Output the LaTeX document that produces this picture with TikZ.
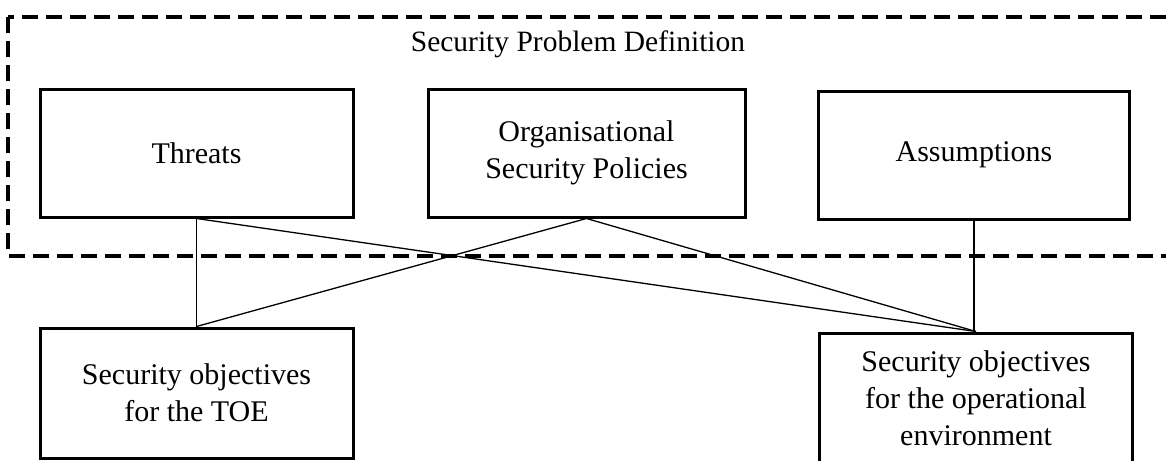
\documentclass[tikz,border=0pt]{standalone}
\usepackage{fontspec}
\setmainfont{Liberation Serif}
\begin{document}
\begin{tikzpicture}[x=1pt,y=-1pt,
  box/.style={draw, line width=3pt, minimum width=313pt, minimum height=128pt,
    align=center, inner sep=0pt, font=\fontsize{30}{37}\selectfont},
  conn/.style={line width=1.3pt},
  lbl/.style={inner sep=0pt, font=\fontsize{29.5}{36}\selectfont}]
\useasboundingbox (0,0) rectangle (1166,460);
\draw[line width=3.2pt, dash pattern=on 16pt off 8pt] (8,17) rectangle (1200,256);
\node[lbl] (title) at (578,44) {Security Problem Definition};
\node[box] (threats) at (196.5,153) {Threats};
\node[box, minimum width=317pt] (osp) at (586.5,153) {Organisational\\Security Policies};
\node[box, minimum width=311pt] (assump) at (974,155) {Assumptions};
\node[box, minimum height=130pt] (toe) at (196.5,393) {Security objectives\\for the TOE};
\node[box, minimum height=130pt] (env) at (976,398) {Security objectives\\for the operational\\environment};
\draw[conn] (threats.south) -- (toe.north);
\draw[conn] (threats.south) -- (env.north);
\draw[conn] (osp.south) -- (toe.north);
\draw[conn] (osp.south) -- (env.north);
\draw[conn] (assump.south) -- (assump.south |- env.north);
\end{tikzpicture}
\end{document}
